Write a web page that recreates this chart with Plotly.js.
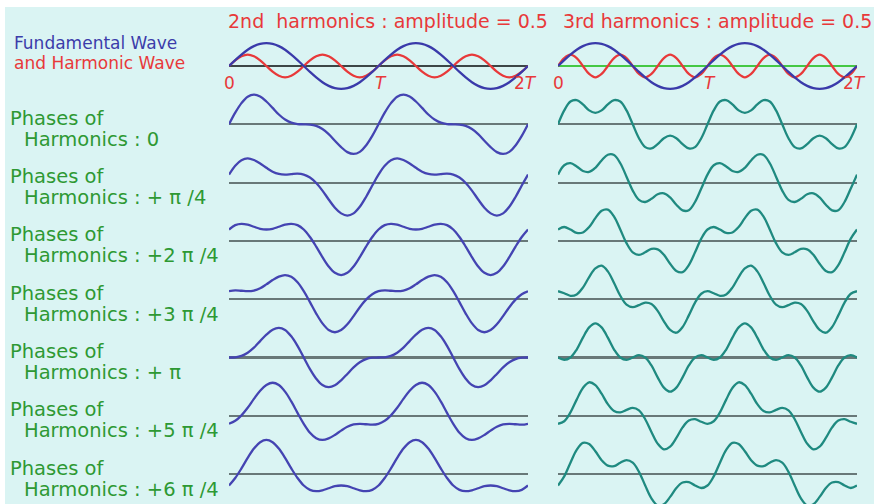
<!DOCTYPE html>
<html>
<head>
<meta charset="utf-8">
<script src="https://cdn.plot.ly/plotly-3.0.1.min.js"></script>
<style>
  html, body { margin: 0; padding: 0; background: #ffffff; }
  #chart { width: 874px; height: 504px; }
</style>
</head>
<body>
<div id="chart"></div>
<script>
// Waveforms sampled every 15 degrees of the fundamental, over 0 .. 2T.
const samplesPerT = 24;
const tPos = Array.from({ length: 2 * samplesPerT + 1 }, (_, i) => i / samplesPerT);

// Fundamental wave (amplitude 1)
const fundamental = [
  0,0.26,0.5,0.71,0.87,0.97,1,0.97,0.87,0.71,0.5,0.26,0,-0.26,-0.5,-0.71,-0.87,-0.97,-1,-0.97,-0.87,-0.71,-0.5,-0.26,
  0,0.26,0.5,0.71,0.87,0.97,1,0.97,0.87,0.71,0.5,0.26,0,-0.26,-0.5,-0.71,-0.87,-0.97,-1,-0.97,-0.87,-0.71,-0.5,-0.26,0];

// 2nd and 3rd harmonics (amplitude 0.5)
const harmonic2nd = [
  0,0.25,0.43,0.5,0.43,0.25,0,-0.25,-0.43,-0.5,-0.43,-0.25,0,0.25,0.43,0.5,0.43,0.25,0,-0.25,-0.43,-0.5,-0.43,-0.25,
  0,0.25,0.43,0.5,0.43,0.25,0,-0.25,-0.43,-0.5,-0.43,-0.25,0,0.25,0.43,0.5,0.43,0.25,0,-0.25,-0.43,-0.5,-0.43,-0.25,0];
const harmonic3rd = [
  0,0.35,0.5,0.35,0,-0.35,-0.5,-0.35,0,0.35,0.5,0.35,0,-0.35,-0.5,-0.35,0,0.35,0.5,0.35,0,-0.35,-0.5,-0.35,
  0,0.35,0.5,0.35,0,-0.35,-0.5,-0.35,0,0.35,0.5,0.35,0,-0.35,-0.5,-0.35,0,0.35,0.5,0.35,0,-0.35,-0.5,-0.35,0];

// Fundamental + 2nd harmonic, for each harmonic phase
const sum2ndPhase0 = [
  0,0.51,0.93,1.21,1.30,1.22,1,0.72,0.43,0.21,0.07,0.01,0,-0.01,-0.07,-0.21,-0.43,-0.72,-1,-1.22,-1.30,-1.21,-0.93,-0.51,
  0,0.51,0.93,1.21,1.30,1.22,1,0.72,0.43,0.21,0.07,0.01,0,-0.01,-0.07,-0.21,-0.43,-0.72,-1,-1.22,-1.30,-1.21,-0.93,-0.51,0];
const sum2ndPhase1 = [
  0.35,0.74,0.98,1.06,0.99,0.84,0.65,0.48,0.38,0.35,0.37,0.39,0.35,0.22,-0.02,-0.35,-0.74,-1.10,-1.35,-1.45,-1.35,-1.06,-0.63,-0.13,
  0.35,0.74,0.98,1.06,0.99,0.84,0.65,0.48,0.38,0.35,0.37,0.39,0.35,0.22,-0.02,-0.35,-0.74,-1.10,-1.35,-1.45,-1.35,-1.06,-0.63,-0.13,0.35];
const sum2ndPhase2 = [
  0.5,0.69,0.75,0.71,0.62,0.53,0.5,0.53,0.62,0.71,0.75,0.69,0.5,0.17,-0.25,-0.71,-1.12,-1.40,-1.5,-1.40,-1.12,-0.71,-0.25,0.17,
  0.5,0.69,0.75,0.71,0.62,0.53,0.5,0.53,0.62,0.71,0.75,0.69,0.5,0.17,-0.25,-0.71,-1.12,-1.40,-1.5,-1.40,-1.12,-0.71,-0.25,0.17,0.5];
const sum2ndPhase3 = [
  0.35,0.39,0.37,0.35,0.38,0.48,0.65,0.84,0.99,1.06,0.98,0.74,0.35,-0.13,-0.63,-1.06,-1.35,-1.45,-1.35,-1.10,-0.74,-0.35,-0.02,0.22,
  0.35,0.39,0.37,0.35,0.38,0.48,0.65,0.84,0.99,1.06,0.98,0.74,0.35,-0.13,-0.63,-1.06,-1.35,-1.45,-1.35,-1.10,-0.74,-0.35,-0.02,0.22,0.35];
const sum2ndPhase4 = [
  0,0.01,0.07,0.21,0.43,0.72,1,1.22,1.30,1.21,0.93,0.51,0,-0.51,-0.93,-1.21,-1.30,-1.22,-1,-0.72,-0.43,-0.21,-0.07,-0.01,
  0,0.01,0.07,0.21,0.43,0.72,1,1.22,1.30,1.21,0.93,0.51,0,-0.51,-0.93,-1.21,-1.30,-1.22,-1,-0.72,-0.43,-0.21,-0.07,-0.01,0];
const sum2ndPhase5 = [
  -0.35,-0.22,0.02,0.35,0.74,1.10,1.35,1.45,1.35,1.06,0.63,0.13,-0.35,-0.74,-0.98,-1.06,-0.99,-0.84,-0.65,-0.48,-0.38,-0.35,-0.37,-0.39,
  -0.35,-0.22,0.02,0.35,0.74,1.10,1.35,1.45,1.35,1.06,0.63,0.13,-0.35,-0.74,-0.98,-1.06,-0.99,-0.84,-0.65,-0.48,-0.38,-0.35,-0.37,-0.39,-0.35];
const sum2ndPhase6 = [
  -0.5,-0.17,0.25,0.71,1.12,1.40,1.5,1.40,1.12,0.71,0.25,-0.17,-0.5,-0.69,-0.75,-0.71,-0.62,-0.53,-0.5,-0.53,-0.62,-0.71,-0.75,-0.69,
  -0.5,-0.17,0.25,0.71,1.12,1.40,1.5,1.40,1.12,0.71,0.25,-0.17,-0.5,-0.69,-0.75,-0.71,-0.62,-0.53,-0.5,-0.53,-0.62,-0.71,-0.75,-0.69,-0.5];

// Fundamental + 3rd harmonic, for each harmonic phase
const sum3rdPhase0 = [
  0,0.61,1,1.06,0.87,0.61,0.5,0.61,0.87,1.06,1,0.61,0,-0.61,-1,-1.06,-0.87,-0.61,-0.5,-0.61,-0.87,-1.06,-1,-0.61,
  0,0.61,1,1.06,0.87,0.61,0.5,0.61,0.87,1.06,1,0.61,0,-0.61,-1,-1.06,-0.87,-0.61,-0.5,-0.61,-0.87,-1.06,-1,-0.61,0];
const sum3rdPhase1 = [
  0.35,0.76,0.85,0.71,0.51,0.47,0.65,0.97,1.22,1.21,0.85,0.26,-0.35,-0.76,-0.85,-0.71,-0.51,-0.47,-0.65,-0.97,-1.22,-1.21,-0.85,-0.26,
  0.35,0.76,0.85,0.71,0.51,0.47,0.65,0.97,1.22,1.21,0.85,0.26,-0.35,-0.76,-0.85,-0.71,-0.51,-0.47,-0.65,-0.97,-1.22,-1.21,-0.85,-0.26,0.35];
const sum3rdPhase2 = [
  0.5,0.61,0.5,0.35,0.37,0.61,1,1.32,1.37,1.06,0.5,-0.10,-0.5,-0.61,-0.5,-0.35,-0.37,-0.61,-1,-1.32,-1.37,-1.06,-0.5,0.10,
  0.5,0.61,0.5,0.35,0.37,0.61,1,1.32,1.37,1.06,0.5,-0.10,-0.5,-0.61,-0.5,-0.35,-0.37,-0.61,-1,-1.32,-1.37,-1.06,-0.5,0.10,0.5];
const sum3rdPhase3 = [
  0.35,0.26,0.15,0.21,0.51,0.97,1.35,1.47,1.22,0.71,0.15,-0.24,-0.35,-0.26,-0.15,-0.21,-0.51,-0.97,-1.35,-1.47,-1.22,-0.71,-0.15,0.24,
  0.35,0.26,0.15,0.21,0.51,0.97,1.35,1.47,1.22,0.71,0.15,-0.24,-0.35,-0.26,-0.15,-0.21,-0.51,-0.97,-1.35,-1.47,-1.22,-0.71,-0.15,0.24,0.35];
const sum3rdPhase4 = [
  0,-0.10,0,0.35,0.87,1.32,1.5,1.32,0.87,0.35,0,-0.10,0,0.10,0,-0.35,-0.87,-1.32,-1.5,-1.32,-0.87,-0.35,0,0.10,
  0,-0.10,0,0.35,0.87,1.32,1.5,1.32,0.87,0.35,0,-0.10,0,0.10,0,-0.35,-0.87,-1.32,-1.5,-1.32,-0.87,-0.35,0,0.10,0];
const sum3rdPhase5 = [
  -0.35,-0.24,0.15,0.71,1.22,1.47,1.35,0.97,0.51,0.21,0.15,0.26,0.35,0.24,-0.15,-0.71,-1.22,-1.47,-1.35,-0.97,-0.51,-0.21,-0.15,-0.26,
  -0.35,-0.24,0.15,0.71,1.22,1.47,1.35,0.97,0.51,0.21,0.15,0.26,0.35,0.24,-0.15,-0.71,-1.22,-1.47,-1.35,-0.97,-0.51,-0.21,-0.15,-0.26,-0.35];
const sum3rdPhase6 = [
  -0.5,-0.10,0.5,1.06,1.37,1.32,1,0.61,0.37,0.35,0.5,0.61,0.5,0.10,-0.5,-1.06,-1.37,-1.32,-1,-0.61,-0.37,-0.35,-0.5,-0.61,
  -0.5,-0.10,0.5,1.06,1.37,1.32,1,0.61,0.37,0.35,0.5,0.61,0.5,0.10,-0.5,-1.06,-1.37,-1.32,-1,-0.61,-0.37,-0.35,-0.5,-0.61,-0.5];

const phaseLabels = ['0', '+ π /4', '+2 π /4', '+3 π /4', '+ π', '+5 π /4', '+6 π /4'];
const timeTickVals = [0, 1, 2];
const timeTickText = ['0', '<i>T</i>', '2<i>T</i>'];
const columnTitles = ['2nd  harmonics : amplitude = 0.5', '3rd harmonics : amplitude = 0.5'];

const sums2nd = [sum2ndPhase0, sum2ndPhase1, sum2ndPhase2, sum2ndPhase3, sum2ndPhase4, sum2ndPhase5, sum2ndPhase6];
const sums3rd = [sum3rdPhase0, sum3rdPhase1, sum3rdPhase2, sum3rdPhase3, sum3rdPhase4, sum3rdPhase5, sum3rdPhase6];

// ---- geometry (pixels) ----
const W = 874, H = 504;
const columnsPx = [[229, 528], [558, 857]];
const firstBaseline = 66, rowPitch = 58.3, unitPx = 22.8, halfSpan = 1.7;

const BLUE = '#4444b2', RED = '#e8393a', TEAL = '#1f8a80', GREEN = '#2e9933';
const FONT = 'DejaVu Sans, Verdana, sans-serif';

function rowBaseline(r) { return firstBaseline + rowPitch * r; }
function rowAxis(r) {
  const base = rowBaseline(r);
  const topPx = Math.max(0, base - halfSpan * unitPx);
  const botPx = Math.min(H, base + halfSpan * unitPx);
  return {
    domain: [1 - botPx / H, 1 - topPx / H],
    range: [-(botPx - base) / unitPx, (base - topPx) / unitPx]
  };
}
const px2x = (px) => px / W;
const px2y = (px) => 1 - px / H;

const traces = [];
const layout = {
  width: W, height: H,
  margin: { l: 0, r: 0, t: 0, b: 0 },
  paper_bgcolor: '#ffffff',
  plot_bgcolor: 'rgba(0,0,0,0)',
  showlegend: false,
  hovermode: false,
  shapes: [{
    type: 'rect', xref: 'paper', yref: 'paper', layer: 'below',
    x0: px2x(5), x1: 1, y0: 0, y1: px2y(7),
    fillcolor: '#daf4f3', line: { width: 0 }
  }],
  annotations: []
};

for (let r = 0; r < 8; r++) {
  const ra = rowAxis(r);
  for (let c = 0; c < 2; c++) {
    const idx = r * 2 + c + 1;
    const sfx = idx === 1 ? '' : String(idx);
    const xName = 'x' + sfx, yName = 'y' + sfx;

    let zeroColor = '#687878', zeroWidth = 2.2;
    if (r === 0) { zeroColor = c === 0 ? '#3c4646' : '#44c844'; zeroWidth = c === 0 ? 1.5 : 2; }

    layout['xaxis' + sfx] = {
      domain: [px2x(columnsPx[c][0]), px2x(columnsPx[c][1])],
      range: [0, 2], visible: false, fixedrange: true, anchor: yName
    };
    layout['yaxis' + sfx] = {
      domain: ra.domain, range: ra.range, anchor: xName,
      showgrid: false, showticklabels: false, ticks: '', showline: false,
      zeroline: true, zerolinecolor: zeroColor, zerolinewidth: zeroWidth, fixedrange: true
    };

    const lineOf = (y, color) => ({
      x: tPos, y: y, xaxis: xName, yaxis: yName, type: 'scatter', mode: 'lines',
      line: { color: color, width: 2.3, shape: 'spline', smoothing: 1 },
      hoverinfo: 'skip'
    });

    if (r === 0) {
      traces.push(lineOf(c === 0 ? harmonic2nd : harmonic3rd, RED));
      traces.push(lineOf(fundamental, '#3a3aaa'));
      // 0, T, 2T labels under the reference row
      timeTickVals.forEach((v, j) => {
        layout.annotations.push({
          xref: xName, yref: yName, x: v, y: -0.75,
          text: timeTickText[j], showarrow: false,
          xanchor: 'center', yanchor: 'middle',
          xshift: j === 0 ? 0 : (j === 1 ? 2 : -3),
          font: { family: FONT, size: 17, color: RED }
        });
      });
    } else {
      traces.push(lineOf(c === 0 ? sums2nd[r - 1] : sums3rd[r - 1], c === 0 ? BLUE : TEAL));
    }
  }
}

// column titles
columnTitles.forEach((t, c) => {
  layout.annotations.push({
    xref: 'paper', yref: 'paper',
    x: px2x(c === 0 ? 226 : 561), y: px2y(21),
    text: t, showarrow: false, xanchor: 'left', yanchor: 'middle',
    font: { family: FONT, size: 19, color: RED }
  });
});

// legend-like labels on the left
layout.annotations.push({
  xref: 'paper', yref: 'paper', x: px2x(12), y: px2y(43),
  text: 'Fundamental Wave', showarrow: false, xanchor: 'left', yanchor: 'middle',
  font: { family: FONT, size: 17, color: '#3c3caa' }
});
layout.annotations.push({
  xref: 'paper', yref: 'paper', x: px2x(12), y: px2y(63),
  text: 'and Harmonic Wave', showarrow: false, xanchor: 'left', yanchor: 'middle',
  font: { family: FONT, size: 17, color: RED }
});

phaseLabels.forEach((p, i) => {
  const base = rowBaseline(i + 1);
  layout.annotations.push({
    xref: 'paper', yref: 'paper', x: px2x(8), y: px2y(base - 6),
    text: 'Phases of', showarrow: false, xanchor: 'left', yanchor: 'middle',
    font: { family: FONT, size: 19.5, color: GREEN }
  });
  layout.annotations.push({
    xref: 'paper', yref: 'paper', x: px2x(22), y: px2y(base + 15),
    text: 'Harmonics : ' + p, showarrow: false, xanchor: 'left', yanchor: 'middle',
    font: { family: FONT, size: 19.5, color: GREEN }
  });
});

Plotly.newPlot('chart', traces, layout, { staticPlot: true, displayModeBar: false });
</script>
</body>
</html>
